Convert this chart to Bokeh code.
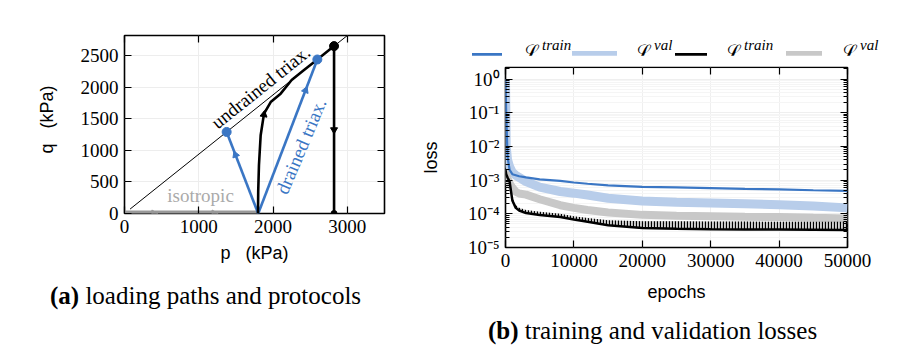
import math
import numpy as np
from bokeh.plotting import figure
from bokeh.layouts import row, column
from bokeh.models import (Label, LinearAxis, LogAxis, FixedTicker, Range1d, CustomJSTickFormatter, Div)
from bokeh.embed import file_html
from bokeh.resources import INLINE

# ---------------- panel (a): loading paths ----------------
csl_p = [75, 3000]
csl_q = [70, 2820]
iso_p = [0, 1800]
iso_q = [0, 0]
drained1_p = [1800, 1375]
drained1_q = [0, 1292]
drained2_p = [1800, 2596]
drained2_q = [0, 2440]
undrained_p = [1797, 1800, 1810, 1833, 1878, 1968, 2102, 2250, 2400, 2600, 2821]
undrained_q = [0, 350, 764, 1239, 1582, 1766, 1899, 2115, 2256, 2444, 2652]
unload_p = [2821, 2821]
unload_q = [2652, 0]
p_ticks = [0, 1000, 2000, 3000]
q_ticks = [0, 500, 1000, 1500, 2000, 2500]

# ---------------- panel (b): losses ----------------
epochs = [0, 100, 300, 600, 1000, 1500, 2000, 3000, 5000, 8000, 10000, 12000,
          15000, 20000, 25000, 30000, 35000, 40000, 45000, 50000]
loss_train = [1.0, 1e-1, 5e-3, 2e-3, 1.5e-3, 1.4e-3, 1.3e-3, 1.2e-3, 1.05e-3, 9.5e-4,
              8.5e-4, 7.8e-4, 7.0e-4, 6.3e-4, 6.1e-4, 5.8e-4, 5.5e-4, 5.3e-4, 5.0e-4, 4.8e-4]
loss_val = [1.0, 1e-2, 4e-3, 2.5e-3, 1.7e-3, 1.4e-3, 1.2e-3, 9e-4, 6.2e-4, 4.6e-4,
            4.1e-4, 3.6e-4, 2.9e-4, 2.4e-4, 2.2e-4, 2.1e-4, 2.0e-4, 1.85e-4, 1.7e-4, 1.5e-4]
loss_sig_train = [2e-3, 1.5e-3, 1.2e-3, 9e-4, 2.5e-4, 1.5e-4, 1.25e-4, 1.05e-4, 9.2e-5, 8.0e-5,
                  6.8e-5, 5.8e-5, 4.6e-5, 3.8e-5, 3.6e-5, 3.5e-5, 3.45e-5, 3.4e-5, 3.35e-5, 3.3e-5]
loss_sig_train_spikes = [2e-3, 1.5e-3, 1.2e-3, 9e-4, 3e-4, 1.8e-4, 1.5e-4, 1.3e-4, 1.15e-4, 1.0e-4,
                         8.5e-5, 7.5e-5, 6.4e-5, 6.0e-5, 6.0e-5, 5.9e-5, 5.9e-5, 5.8e-5, 5.8e-5, 5.8e-5]
loss_sig_val = [2e-3, 1.5e-3, 1.1e-3, 8e-4, 6e-4, 4.5e-4, 4.0e-4, 3.7e-4, 2.7e-4, 1.8e-4,
                1.5e-4, 1.3e-4, 1.1e-4, 9.3e-5, 8.8e-5, 8.5e-5, 8.2e-5, 8.0e-5, 7.6e-5, 7.3e-5]
epoch_ticks = [0, 10000, 20000, 30000, 40000, 50000]
loss_ticks = [1e-5, 1e-4, 1e-3, 1e-2, 1e-1, 1e0]
loss_tick_labels = ["10\u207b\u2075", "10\u207b\u2074", "10\u207b\u00b3", "10\u207b\u00b2", "10\u207b\u00b9", "10\u2070"]
legend_names = [("train", ""), ("val", ""), ("train", "\u03c3"), ("val", "\u03c3")]
caption_a = ("(a)", "loading paths and protocols")
caption_b = ("(b)", "training and validation losses")

SERIF = "Liberation Serif"
SANS = "Liberation Sans"
BLUE = "#3a76c4"
LIGHTBLUE = "#b8cdea"
GRAY = "#c8c8c8"
TICK_FS = "19px"
NB = "\u00a0"

# page layout (pixels)
W1, W2, H = 412, 486, 355
F1_L, F1_W, F1_T, F1_H, F1_B = 124, 260, 35, 178, 57          # figure (a): top at 0
LEG_H = 55                                                     # legend strip above figure (b)
F2_L, F2_W, F2_T, F2_H, F2_B = 505 - W1, 342, 67 - LEG_H, 180, 64   # figure (b): top at LEG_H
P_MAX, Q_MAX = 3500, 2820
E_MAX, L_MIN, L_MAX = 50000, 1e-5, 2.2


def style_axis(ax, show_labels=True):
    ax.axis_line_color = None
    ax.major_tick_in = 7
    ax.major_tick_out = 0
    ax.minor_tick_in = 4
    ax.minor_tick_out = 0
    ax.major_tick_line_color = "black"
    ax.minor_tick_line_color = "black"
    ax.major_tick_line_width = 1.2
    ax.major_label_text_font = SERIF
    if show_labels:
        ax.major_label_text_font_size = TICK_FS
        ax.major_label_text_color = "black"
        ax.major_label_standoff = 6
    else:
        ax.major_label_text_font_size = "1px"
        ax.major_label_text_color = None
        ax.major_label_standoff = 0
    ax.axis_label_text_font = SANS
    ax.axis_label_text_font_size = "18px"
    ax.axis_label_text_font_style = "normal"
    ax.axis_label_text_color = "black"


# ---------------- figure (a) ----------------
f1 = figure(width=W1, height=F1_T + F1_H + F1_B, output_backend="svg", toolbar_location=None, title=None,
            x_range=Range1d(0, P_MAX), y_range=Range1d(0, Q_MAX),
            min_border_left=F1_L, min_border_right=W1 - F1_L - F1_W,
            min_border_top=F1_T, min_border_bottom=F1_B)
f1.outline_line_color = "black"
f1.outline_line_width = 1.6
f1.xaxis.ticker = FixedTicker(ticks=p_ticks)
f1.yaxis.ticker = FixedTicker(ticks=q_ticks)
for ax in f1.xaxis + f1.yaxis:
    style_axis(ax)
    ax.minor_tick_line_color = None
f1.xaxis.axis_label = "p" + NB * 3 + "(kPa)"
f1.xaxis.axis_label_standoff = 7
f1.yaxis.axis_label = NB * 2 + "q" + NB * 3 + "(kPa)"
f1.yaxis.axis_label_standoff = 21
top1 = LinearAxis(ticker=FixedTicker(ticks=p_ticks))
right1 = LinearAxis(ticker=FixedTicker(ticks=q_ticks))
for ax in (top1, right1):
    style_axis(ax, show_labels=False)
    ax.minor_tick_line_color = None
f1.add_layout(top1, "above")
f1.add_layout(right1, "right")
f1.grid.grid_line_color = "#ededed"
f1.grid.grid_line_width = 1

f1.line(csl_p, csl_q, line_color="black", line_width=1)
f1.line(iso_p, iso_q, line_color="#999999", line_width=6)
f1.line(drained1_p, drained1_q, line_color=BLUE, line_width=2.6)
f1.line(drained2_p, drained2_q, line_color=BLUE, line_width=2.6)
f1.line(undrained_p, undrained_q, line_color="black", line_width=2.6)
f1.line(unload_p, unload_q, line_color="black", line_width=2.6)
f1.scatter([drained1_p[-1], drained2_p[-1]], [drained1_q[-1], drained2_q[-1]], size=9, color=BLUE)
f1.scatter([undrained_p[-1]], [undrained_q[-1]], size=9, color="black")
f1.scatter([unload_p[-1]], [unload_q[-1]], size=6, color="black")

SX = F1_W / P_MAX
SY = F1_H / Q_MAX


def arrow_at(ps, qs, frac):
    ps = np.asarray(ps, float)
    qs = np.asarray(qs, float)
    dx = np.diff(ps) * SX
    dy = np.diff(qs) * SY
    seg = np.hypot(dx, dy)
    cum = np.concatenate([[0], np.cumsum(seg)])
    target = frac * cum[-1]
    i = int(np.searchsorted(cum, target)) - 1
    i = max(0, min(i, len(seg) - 1))
    t = (target - cum[i]) / seg[i]
    px = ps[i] + t * (ps[i + 1] - ps[i])
    py = qs[i] + t * (qs[i + 1] - qs[i])
    ang = math.atan2(dy[i], dx[i]) - math.pi / 2
    return px, py, ang


for ps, qs, fr, col in [(drained1_p, drained1_q, 0.72, BLUE), (drained2_p, drained2_q, 0.8, BLUE),
                        (undrained_p, undrained_q, 0.5, "black"), (unload_p, unload_q, 0.5, "black"),
                        (iso_p, iso_q, 0.22, "#999999"), (iso_p, iso_q, 0.67, "#999999")]:
    ax_, ay_, aa_ = arrow_at(ps, qs, fr)
    f1.scatter([ax_], [ay_], marker="triangle", size=7, angle=aa_, color=col)

f1.add_layout(Label(x=1833, y=2003, text="undrained triax.", angle=0.675, text_align="center",
                    text_baseline="middle", text_font=SERIF, text_font_size="19px", text_color="black"))
f1.add_layout(Label(x=2378, y=1065, text="drained triax.", angle=math.radians(67), text_align="center",
                    text_baseline="middle", text_font=SERIF, text_font_size="19px", text_color=BLUE))
f1.add_layout(Label(x=1024, y=290, text="isotropic", text_align="center",
                    text_baseline="middle", text_font=SERIF, text_font_size="19px", text_color="#aaaaaa"))

# ---------------- figure (b) ----------------
f2 = figure(width=W2, height=F2_T + F2_H + F2_B, output_backend="svg", toolbar_location=None, title=None,
            x_range=Range1d(0, E_MAX), y_range=Range1d(L_MIN, L_MAX), y_axis_type="log",
            min_border_left=F2_L, min_border_right=W2 - F2_L - F2_W,
            min_border_top=F2_T, min_border_bottom=F2_B)
f2.outline_line_color = "black"
f2.outline_line_width = 1.6
minor_loss = [m * 10.0 ** e for e in range(-5, 1) for m in range(2, 10)]
fmt = CustomJSTickFormatter(args=dict(tick_vals=loss_ticks, tick_labels=loss_tick_labels), code="""
let best = 0, bd = Infinity;
for (let i = 0; i < tick_vals.length; i++) {
  const d = Math.abs(Math.log10(tick_vals[i]) - Math.log10(tick));
  if (d < bd) { bd = d; best = i; }
}
return tick_labels[best];
""")
f2.yaxis.ticker = FixedTicker(ticks=loss_ticks, minor_ticks=minor_loss)
f2.yaxis.formatter = fmt
f2.xaxis.ticker = FixedTicker(ticks=epoch_ticks)
for ax in f2.xaxis + f2.yaxis:
    style_axis(ax)
f2.xaxis.minor_tick_line_color = None
f2.xaxis.axis_label = "epochs"
f2.xaxis.axis_label_standoff = 12
f2.yaxis.axis_label = "loss"
f2.yaxis.axis_label_standoff = 24
top2 = LinearAxis(ticker=FixedTicker(ticks=epoch_ticks))
right2 = LogAxis(ticker=FixedTicker(ticks=loss_ticks, minor_ticks=minor_loss))
for ax in (top2, right2):
    style_axis(ax, show_labels=False)
top2.minor_tick_line_color = None
f2.add_layout(top2, "above")
f2.add_layout(right2, "right")
f2.grid.grid_line_color = "#efefef"
f2.ygrid.minor_grid_line_color = "#f5f5f5"

f2.line(epochs, loss_val, line_color=LIGHTBLUE, line_width=9)
f2.line(epochs, loss_sig_val, line_color=GRAY, line_width=8)
f2.varea(x=epochs, y1=loss_sig_train, y2=loss_sig_train_spikes, fill_color="#666666", fill_alpha=0.3,
         hatch_pattern="|", hatch_color="black", hatch_scale=3, hatch_weight=1.2)
f2.line(epochs, loss_sig_train, line_color="black", line_width=2.5)
f2.line(epochs, loss_train, line_color=BLUE, line_width=2.2)

# ---------------- legend strip (HTML) ----------------
OFF = 440 - W1
swatches = [(32 + OFF, 30, 2.5, BLUE), (132 + OFF, 45, 7, LIGHTBLUE),
            (235 + OFF, 32, 2.5, "black"), (346 + OFF, 36, 7, GRAY)]
text_left = [83 + OFF, 195 + OFF, 285 + OFF, 401 + OFF]
SW_Y = 42.5
parts = []
for (sl, sw, th, col), tl, (sup, sub) in zip(swatches, text_left, legend_names):
    parts.append(f'<div style="position:absolute;left:{sl}px;top:{SW_Y - th / 2}px;width:{sw}px;'
                 f'height:{th}px;background:{col};"></div>')
    parts.append(f'<div style="position:absolute;left:{tl}px;top:30px;font-family:\'DejaVu Serif\';'
                 f'font-size:20px;line-height:20px;">\u2112</div>')
    parts.append(f'<div style="position:absolute;left:{tl + 19}px;top:26px;font-family:\'{SERIF}\';'
                 f'font-style:italic;font-size:15px;line-height:15px;">{sup}</div>')
    if sub:
        parts.append(f'<div style="position:absolute;left:{tl + 19}px;top:42px;font-family:\'{SERIF}\';'
                     f'font-style:italic;font-size:14px;line-height:14px;">{sub}</div>')
legend_div = Div(text='<div style="position:relative;width:100%;height:100%;">' + "".join(parts) + "</div>",
                 width=W2, height=LEG_H, margin=0)


def caption_div(cap, left, top, width, height):
    html = (f'<div style="position:relative;width:100%;height:100%;">'
            f'<div style="position:absolute;left:{left}px;top:{top}px;white-space:nowrap;'
            f'font-family:\'{SERIF}\';font-size:25px;line-height:25px;color:black;">'
            f'<b>{cap[0]}</b>&nbsp;{cap[1]}</div></div>')
    return Div(text=html, width=width, height=height, margin=0)


H1 = F1_T + F1_H + F1_B
H2 = LEG_H + F2_T + F2_H + F2_B
cap_a = caption_div(caption_a, 50, 295 - H1 - 24, W1, H - H1)
cap_b = caption_div(caption_b, 488 - W1, 330 - H2 - 24, W2, H - H2)

layout = row(column(f1, cap_a, spacing=0), column(legend_div, f2, cap_b, spacing=0), spacing=0)
open("out.html", "w").write(file_html(layout, INLINE))
